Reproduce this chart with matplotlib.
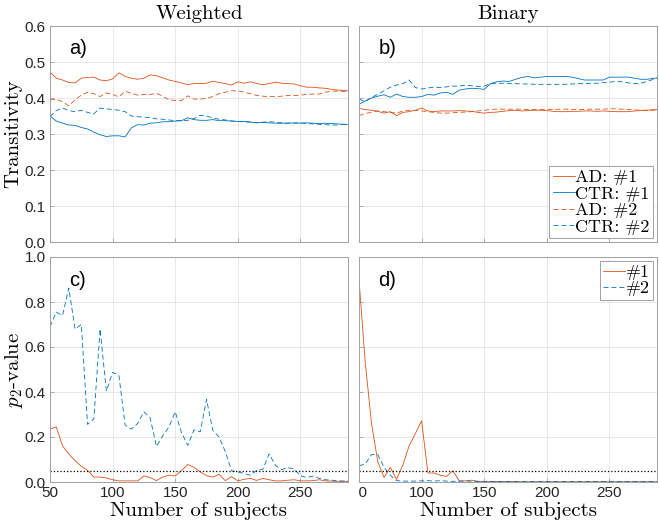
import numpy as np
import matplotlib
matplotlib.use('Agg')
import matplotlib.pyplot as plt
from matplotlib.transforms import Bbox, TransformedBbox

# sample sizes (number of subjects)
subjects = [50, 55, 60, 65, 70, 75, 80, 85, 90, 95, 100, 105, 110, 115, 120, 125,
            130, 135, 140, 145, 150, 155, 160, 165, 170, 175, 180, 185, 190, 195,
            200, 205, 210, 215, 220, 225, 230, 235, 240, 245, 250, 255, 260, 265,
            270, 275, 280, 288]

# transitivity, weighted networks
w_ad1 = [0.472, 0.455, 0.450, 0.443, 0.442, 0.455, 0.457, 0.458, 0.450, 0.448,
         0.453, 0.470, 0.460, 0.455, 0.452, 0.455, 0.464, 0.462, 0.456, 0.450,
         0.446, 0.442, 0.437, 0.440, 0.440, 0.441, 0.447, 0.443, 0.440, 0.436,
         0.445, 0.441, 0.445, 0.440, 0.437, 0.440, 0.444, 0.441, 0.440, 0.439,
         0.434, 0.430, 0.430, 0.428, 0.427, 0.424, 0.422, 0.420]
w_ctr1 = [0.350, 0.336, 0.330, 0.325, 0.324, 0.318, 0.314, 0.305, 0.298, 0.293,
          0.295, 0.295, 0.292, 0.317, 0.326, 0.325, 0.330, 0.331, 0.334, 0.334,
          0.336, 0.337, 0.345, 0.340, 0.338, 0.338, 0.340, 0.337, 0.337, 0.336,
          0.335, 0.335, 0.333, 0.332, 0.332, 0.331, 0.330, 0.330, 0.330, 0.331,
          0.330, 0.331, 0.330, 0.329, 0.330, 0.329, 0.328, 0.326]
w_ad2 = [0.396, 0.396, 0.390, 0.378, 0.395, 0.408, 0.416, 0.412, 0.404, 0.414,
         0.410, 0.403, 0.419, 0.413, 0.408, 0.410, 0.410, 0.413, 0.405, 0.395,
         0.393, 0.393, 0.406, 0.397, 0.397, 0.399, 0.404, 0.412, 0.416, 0.420,
         0.420, 0.416, 0.412, 0.407, 0.405, 0.404, 0.404, 0.405, 0.407, 0.407,
         0.408, 0.410, 0.411, 0.411, 0.416, 0.419, 0.419, 0.418]
w_ctr2 = [0.348, 0.365, 0.372, 0.365, 0.362, 0.366, 0.360, 0.356, 0.372, 0.370,
          0.368, 0.366, 0.362, 0.350, 0.348, 0.347, 0.345, 0.342, 0.341, 0.339,
          0.337, 0.337, 0.338, 0.343, 0.352, 0.350, 0.345, 0.341, 0.339, 0.336,
          0.335, 0.334, 0.333, 0.331, 0.333, 0.334, 0.333, 0.331, 0.330, 0.330,
          0.331, 0.329, 0.328, 0.327, 0.326, 0.325, 0.325, 0.328]

# transitivity, binary networks
b_ad1 = [0.371, 0.368, 0.366, 0.363, 0.358, 0.362, 0.351, 0.360, 0.362, 0.366,
         0.372, 0.364, 0.362, 0.364, 0.364, 0.364, 0.365, 0.364, 0.363, 0.360,
         0.358, 0.360, 0.361, 0.363, 0.365, 0.366, 0.364, 0.365, 0.366, 0.366,
         0.365, 0.363, 0.362, 0.362, 0.363, 0.363, 0.364, 0.364, 0.363, 0.364,
         0.363, 0.362, 0.362, 0.362, 0.364, 0.365, 0.366, 0.368]
b_ctr1 = [0.382, 0.392, 0.400, 0.405, 0.409, 0.402, 0.411, 0.404, 0.402, 0.402,
          0.404, 0.410, 0.408, 0.414, 0.416, 0.410, 0.422, 0.425, 0.427, 0.426,
          0.424, 0.440, 0.445, 0.447, 0.446, 0.452, 0.457, 0.460, 0.456, 0.458,
          0.460, 0.460, 0.460, 0.460, 0.458, 0.454, 0.450, 0.450, 0.450, 0.450,
          0.458, 0.458, 0.458, 0.458, 0.455, 0.452, 0.452, 0.456]
b_ad2 = [0.351, 0.357, 0.360, 0.364, 0.362, 0.360, 0.358, 0.364, 0.366, 0.365,
         0.364, 0.362, 0.360, 0.358, 0.358, 0.359, 0.360, 0.361, 0.362, 0.364,
         0.366, 0.368, 0.369, 0.369, 0.369, 0.369, 0.369, 0.368, 0.368, 0.368,
         0.368, 0.368, 0.369, 0.369, 0.368, 0.368, 0.368, 0.369, 0.369, 0.369,
         0.370, 0.370, 0.369, 0.368, 0.367, 0.366, 0.366, 0.366]
b_ctr2 = [0.397, 0.390, 0.402, 0.410, 0.420, 0.430, 0.436, 0.440, 0.450, 0.429,
          0.425, 0.428, 0.430, 0.429, 0.431, 0.433, 0.433, 0.436, 0.434, 0.432,
          0.433, 0.440, 0.441, 0.441, 0.440, 0.440, 0.439, 0.439, 0.438, 0.438,
          0.438, 0.438, 0.438, 0.438, 0.439, 0.440, 0.440, 0.441, 0.441, 0.443,
          0.444, 0.446, 0.445, 0.442, 0.440, 0.441, 0.446, 0.455]

# p2-values
pw_1 = [0.235, 0.245, 0.160, 0.125, 0.095, 0.070, 0.052, 0.022, 0.022, 0.018,
        0.010, 0.005, 0.005, 0.005, 0.005, 0.027, 0.020, 0.006, 0.022, 0.030,
        0.027, 0.050, 0.078, 0.065, 0.045, 0.028, 0.022, 0.034, 0.006, 0.024,
        0.005, 0.012, 0.016, 0.007, 0.016, 0.010, 0.005, 0.005, 0.008, 0.010,
        0.005, 0.005, 0.006, 0.010, 0.005, 0.004, 0.003, 0.003]
pw_2 = [0.690, 0.755, 0.740, 0.862, 0.680, 0.700, 0.256, 0.280, 0.680, 0.404,
        0.487, 0.475, 0.253, 0.235, 0.260, 0.312, 0.285, 0.158, 0.205, 0.245,
        0.312, 0.220, 0.163, 0.232, 0.223, 0.367, 0.230, 0.200, 0.135, 0.050,
        0.045, 0.038, 0.030, 0.052, 0.056, 0.125, 0.074, 0.055, 0.064, 0.058,
        0.028, 0.020, 0.026, 0.016, 0.010, 0.008, 0.005, 0.004]
pb_1 = [0.900, 0.530, 0.260, 0.090, 0.020, 0.065, 0.012, 0.075, 0.160, 0.215,
        0.272, 0.040, 0.040, 0.030, 0.025, 0.050, 0.005, 0.005, 0.008, 0.003,
        0.002, 0.002, 0.002, 0.002, 0.002, 0.002, 0.001, 0.001, 0.001, 0.001,
        0.001, 0.001, 0.001, 0.001, 0.001, 0.001, 0.001, 0.001, 0.001, 0.001,
        0.001, 0.001, 0.001, 0.001, 0.001, 0.001, 0.001, 0.001]
pb_2 = [0.072, 0.080, 0.122, 0.122, 0.065, 0.030, 0.006, 0.004, 0.004, 0.004,
        0.005, 0.006, 0.004, 0.006, 0.004, 0.003, 0.003, 0.005, 0.003, 0.002,
        0.002, 0.002, 0.002, 0.002, 0.002, 0.002, 0.002, 0.002, 0.002, 0.002,
        0.002, 0.002, 0.002, 0.002, 0.002, 0.002, 0.002, 0.002, 0.002, 0.002,
        0.002, 0.002, 0.002, 0.002, 0.002, 0.002, 0.002, 0.002]

alpha_level = 0.05

ORANGE = '#D95319'
BLUE = '#0072BD'
SERIF = 'cmr10'
SANS = 'Liberation Sans'
LW = 0.6
DASH = (6, 3.5)

plt.rcParams['mathtext.fontset'] = 'cm'
plt.rcParams['axes.unicode_minus'] = False

W, H = 659, 526
fig = plt.figure(figsize=(W / 100, H / 100), dpi=100)


def px_axes(left, top, right, bottom):
    return fig.add_axes([left / W, 1 - bottom / H, (right - left) / W, (bottom - top) / H])


def style(ax, ylim, yticks, show_y, show_x):
    ax.set_xlim(50, 288)
    ax.set_ylim(*ylim)
    ax.set_yticks(yticks)
    ax.set_xticks([50, 100, 150, 200, 250])
    ax.grid(True, color='#e8e8e8', linewidth=0.7)
    ax.set_axisbelow(True)
    for s in ax.spines.values():
        s.set_color('#a0a0a0')
        s.set_linewidth(0.7)
    ax.tick_params(direction='in', length=3, width=0.6, color='#a0a0a0',
                   labelsize=11, labelcolor='#262626', pad=3)
    for lab in ax.get_xticklabels() + ax.get_yticklabels():
        lab.set_fontfamily(SANS)
    if not show_y:
        ax.set_yticklabels([])
    if not show_x:
        ax.set_xticklabels([])


def panel_letter(ax, txt):
    ax.text(0.065, 0.895, txt, transform=ax.transAxes, fontsize=14.5,
            fontfamily=SANS, va='center', ha='left')


ax_a = px_axes(50, 26, 348, 242)
ax_b = px_axes(359, 26, 657, 242)
ax_c = px_axes(50, 257, 348, 482)
ax_d = px_axes(359, 257, 657, 482)

# a) weighted transitivity
ax_a.plot(subjects, w_ad1, color=ORANGE, lw=LW)
ax_a.plot(subjects, w_ctr1, color=BLUE, lw=LW)
ax_a.plot(subjects, w_ad2, color=ORANGE, lw=LW, dashes=DASH)
ax_a.plot(subjects, w_ctr2, color=BLUE, lw=LW, dashes=DASH)
style(ax_a, (0, 0.6), [0, 0.1, 0.2, 0.3, 0.4, 0.5, 0.6], True, False)
ax_a.set_title('Weighted', fontfamily=SERIF, fontsize=15, pad=5)
ax_a.set_ylabel('Transitivity', fontfamily=SERIF, fontsize=15, labelpad=2)
panel_letter(ax_a, 'a)')

# b) binary transitivity
ax_b.plot(subjects, b_ad1, color=ORANGE, lw=LW, label='AD: #1')
ax_b.plot(subjects, b_ctr1, color=BLUE, lw=LW, label='CTR: #1')
ax_b.plot(subjects, b_ad2, color=ORANGE, lw=LW, dashes=DASH, label='AD: #2')
ax_b.plot(subjects, b_ctr2, color=BLUE, lw=LW, dashes=DASH, label='CTR: #2')
style(ax_b, (0, 0.6), [0, 0.1, 0.2, 0.3, 0.4, 0.5, 0.6], False, False)
ax_b.set_title('Binary', fontfamily=SERIF, fontsize=15, pad=5)
panel_letter(ax_b, 'b)')
leg = ax_b.legend(loc='lower right', prop={'family': SERIF, 'size': 13},
                  handlelength=1.2, handletextpad=0.05, labelspacing=0.05,
                  borderpad=0.2, borderaxespad=0.2, fancybox=False,
                  framealpha=1, edgecolor='#a0a0a0')
leg.get_frame().set_linewidth(0.7)

# c) weighted p2
ax_c.plot(subjects, pw_1, color=ORANGE, lw=LW)
ax_c.plot(subjects, pw_2, color=BLUE, lw=LW, dashes=DASH)
ax_c.axhline(alpha_level, color='black', lw=0.9, ls=':')
style(ax_c, (0, 1), [0, 0.2, 0.4, 0.6, 0.8, 1], True, True)
ax_c.set_ylabel(r'$p_2$-value', fontfamily=SERIF, fontsize=15, labelpad=0)
ax_c.set_xlabel('Number of subjects', fontfamily=SERIF, fontsize=15, labelpad=1)
panel_letter(ax_c, 'c)')

# d) binary p2
ax_d.plot(subjects, pb_1, color=ORANGE, lw=LW, label='#1')
ax_d.plot(subjects, pb_2, color=BLUE, lw=LW, dashes=DASH, label='#2')
ax_d.axhline(alpha_level, color='black', lw=0.9, ls=':')
style(ax_d, (0, 1), [0, 0.2, 0.4, 0.6, 0.8, 1], False, True)
ax_d.set_xlabel('Number of subjects', fontfamily=SERIF, fontsize=15, labelpad=1)
panel_letter(ax_d, 'd)')
leg2 = ax_d.legend(loc='upper right', prop={'family': SERIF, 'size': 13},
                   handlelength=1.2, handletextpad=0.05, labelspacing=0.05,
                   borderpad=0.2, borderaxespad=0.2, fancybox=False,
                   framealpha=1, edgecolor='#a0a0a0')
leg2.get_frame().set_linewidth(0.7)

# the first tick label of panel d is cut at the axes edge in the original
first = ax_d.xaxis.get_major_ticks()[0].label1
first.set_clip_box(TransformedBbox(Bbox([[0, -1], [2, 2]]), ax_d.transAxes))
first.set_clip_on(True)

fig.savefig('out.png', dpi=100)
